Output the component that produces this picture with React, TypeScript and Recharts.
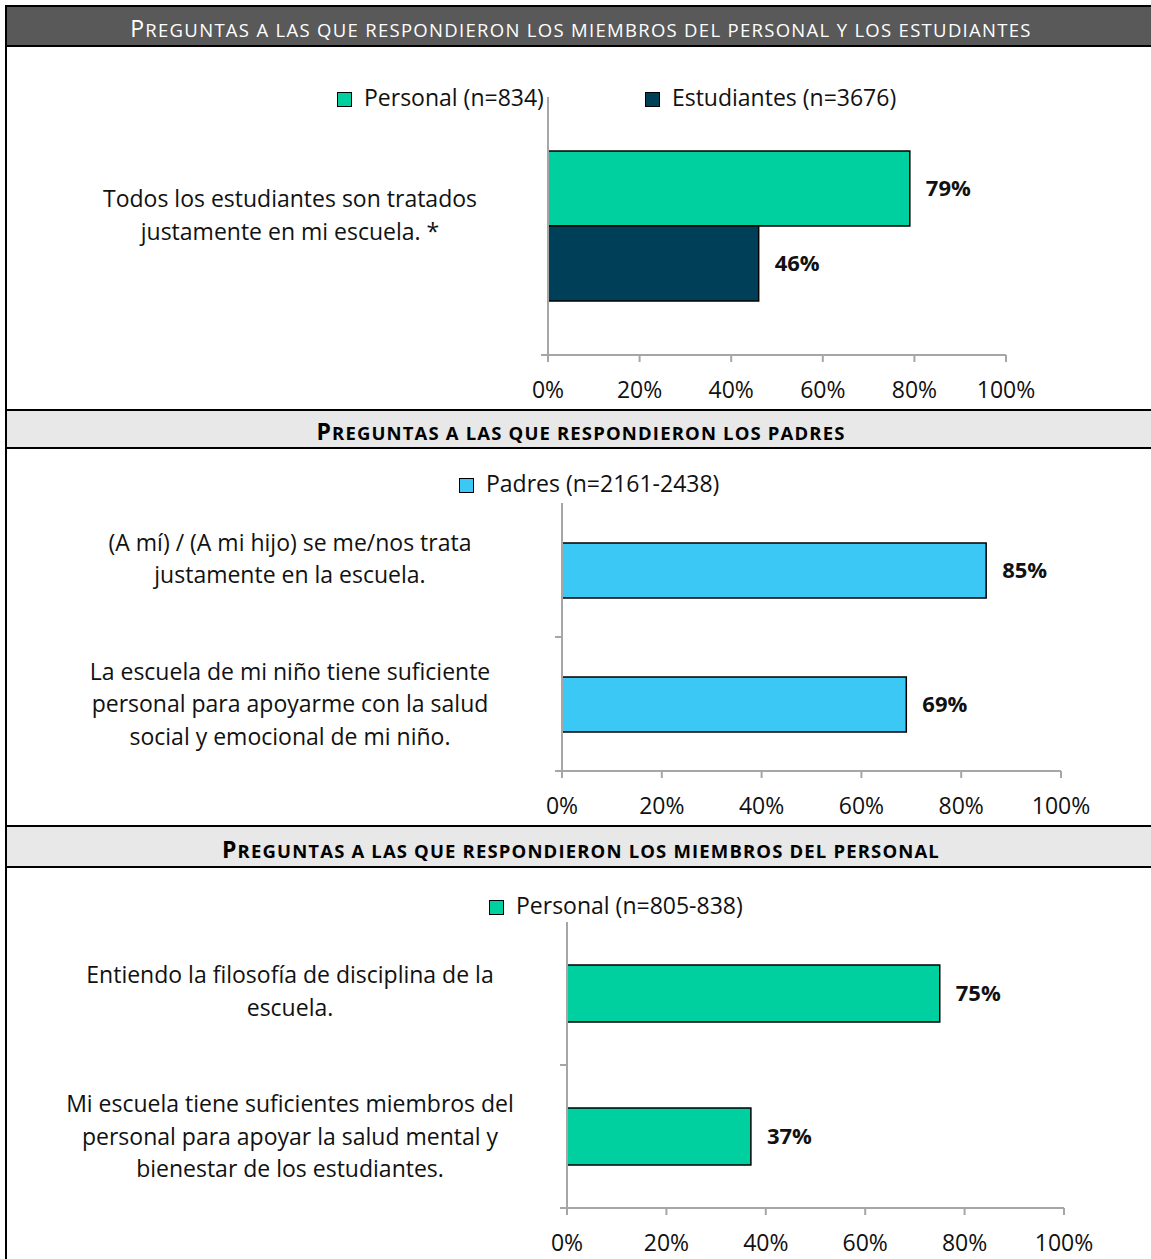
import React from 'react';
import { BarChart, Bar, XAxis, YAxis, Legend, LabelList } from 'recharts';

// values
const percentTicks = [0, 20, 40, 60, 80, 100];

const sharedQuestions = ['Todos los estudiantes son tratados\njustamente en mi escuela. *'];
const sharedPersonal = [79];
const sharedEstudiantes = [46];

const parentQuestions = [
  '(A mí) / (A mi hijo) se me/nos trata\njustamente en la escuela.',
  'La escuela de mi niño tiene suficiente\npersonal para apoyarme con la salud\nsocial y emocional de mi niño.',
];
const parentValues = [85, 69];

const staffQuestions = [
  'Entiendo la filosofía de disciplina de la\nescuela.',
  'Mi escuela tiene suficientes miembros del\npersonal para apoyar la salud mental y\nbienestar de los estudiantes.',
];
const staffValues = [75, 37];

const headerTitles = [
  'Preguntas a las que respondieron los miembros del personal y los estudiantes',
  'Preguntas a las que respondieron los padres',
  'Preguntas a las que respondieron los miembros del personal',
];

const TEAL = '#00cfa0';
const NAVY = '#003f58';
const SKY = '#3cc8f5';
const AXIS = '#a6a6a6';
const FONT = '"Open Sans", "Noto Sans", sans-serif';

type Series = { key: string; name: string; color: string };

const CategoryTick = (props: any) => {
  const { x, y, payload, centerX, nudge } = props;
  const lines = String(payload.value).split('\n');
  const half = payload.offset || 0;
  const lineH = 32.5;
  // two-line labels sit a little above the band centre in the original
  const shift = lines.length === 2 ? nudge : 0;
  const startY = y + shift - ((lines.length - 1) * lineH) / 2;
  return (
    <g>
      <line x1={x - 7} x2={x} y1={y + half} y2={y + half} stroke={AXIS} strokeWidth={2} />
      <text textAnchor="middle" fontSize={23} fontFamily={FONT} fill="#111">
        {lines.map((l: string, i: number) => (
          <tspan key={i} x={centerX} y={startY + i * lineH} dy="0.35em">
            {l}
          </tspan>
        ))}
      </text>
    </g>
  );
};

const LegendRow = ({ series, gap }: { series: Series[]; gap: number }) => (
  <div style={{ display: 'flex', gap, fontFamily: FONT, fontSize: 23, color: '#111', alignItems: 'center' }}>
    {series.map((s) => (
      <div key={s.key} style={{ display: 'flex', alignItems: 'center', gap: 12 }}>
        <span
          style={{
            width: 13,
            height: 13,
            background: s.color,
            border: '1.5px solid #000',
            display: 'inline-block',
            marginTop: 4,
          }}
        />
        <span>{s.name}</span>
      </div>
    ))}
  </div>
);

interface SectionProps {
  top: number;
  height: number;
  data: any[];
  series: Series[];
  plotLeft: number;
  plotRight: number;
  plotTop: number;
  plotBottom: number;
  barSize: number;
  legendLeft: number;
  legendTop: number;
  legendGap: number;
  labelNudge: number;
}

function Section(p: SectionProps) {
  const width = 1151;
  return (
    <div style={{ position: 'absolute', left: 0, top: p.top }}>
      <BarChart
        width={width}
        height={p.height}
        data={p.data}
        layout="vertical"
        barGap={0}
        margin={{ top: p.plotTop - p.top, right: width - p.plotRight, bottom: 0, left: 0 }}
      >
        <XAxis
          type="number"
          domain={[0, 100]}
          ticks={percentTicks}
          tickFormatter={(v) => `${v}%`}
          height={p.top + p.height - p.plotBottom}
          axisLine={{ stroke: AXIS, strokeWidth: 2 }}
          tickLine={{ stroke: AXIS, strokeWidth: 2 }}
          tickSize={7}
          tickMargin={20}
          tick={{ fontSize: 23, fontFamily: FONT, fill: '#111' }}
          interval={0}
        />
        <YAxis
          type="category"
          dataKey="question"
          width={p.plotLeft}
          axisLine={{ stroke: AXIS, strokeWidth: 2 }}
          tickLine={false}
          tickSize={0}
          tickMargin={0}
          tick={<CategoryTick centerX={290} nudge={p.labelNudge} />}
          interval={0}
        />
        <Legend
          layout="horizontal"
          verticalAlign="middle"
          align="center"
          wrapperStyle={{ position: 'absolute', left: p.legendLeft, top: p.legendTop - p.top, width: 'auto' }}
          content={() => <LegendRow series={p.series} gap={p.legendGap} />}
        />
        {p.series.map((s) => (
          <Bar
            key={s.key}
            dataKey={s.key}
            name={s.name}
            fill={s.color}
            stroke="#000"
            strokeWidth={1.5}
            barSize={p.barSize}
            isAnimationActive={false}
          >
            <LabelList
              dataKey={s.key}
              position="right"
              offset={16}
              formatter={(v: any) => `${v}%`}
              style={{ fontSize: 22, fontWeight: 700, fontFamily: FONT, fill: '#111' }}
            />
          </Bar>
        ))}
      </BarChart>
    </div>
  );
}

// small caps by hand: first letter big, everything after it smaller capitals
const SmallCaps = ({ text, big, small }: { text: string; big: number; small: number }) => (
  <span>
    <span style={{ fontSize: big }}>{text[0].toUpperCase()}</span>
    <span style={{ fontSize: small }}>{text.slice(1).toUpperCase()}</span>
  </span>
);

const Header = ({ title, dark, height }: { title: string; dark?: boolean; height: number }) => (
  <div
    style={{
      height,
      borderBottom: '2px solid #000',
      background: dark ? '#595959' : '#e8e8e8',
      color: dark ? '#fff' : '#000',
      display: 'flex',
      alignItems: 'center',
      justifyContent: 'center',
      fontFamily: FONT,
      fontWeight: dark ? 400 : 700,
      letterSpacing: dark ? 1.3 : 1.15,
      paddingTop: 4,
      paddingRight: 12,
      boxSizing: 'border-box',
      whiteSpace: 'nowrap',
    }}
  >
    <SmallCaps text={title} big={23} small={18.5} />
  </div>
);

export default function App() {
  const sharedData = sharedQuestions.map((q, i) => ({
    question: q,
    personal: sharedPersonal[i],
    estudiantes: sharedEstudiantes[i],
  }));
  const parentData = parentQuestions.map((q, i) => ({ question: q, padres: parentValues[i] }));
  const staffData = staffQuestions.map((q, i) => ({ question: q, personal: staffValues[i] }));

  return (
    <div
      style={{
        position: 'absolute',
        left: 0,
        top: 0,
        width: 1151,
        height: 1259,
        overflow: 'hidden',
        background: '#fff',
      }}
    >
      <div
        style={{
          position: 'absolute',
          left: 5,
          top: 5,
          width: 1160,
          height: 1260,
          borderTop: '2px solid #000',
          borderLeft: '2px solid #000',
        }}
      >
        <Header title={headerTitles[0]} dark height={40} />
        <div style={{ height: 364, borderBottom: '2px solid #000', boxSizing: 'border-box' }} />
        <Header title={headerTitles[1]} height={38} />
        <div style={{ height: 378, borderBottom: '2px solid #000', boxSizing: 'border-box' }} />
        <Header title={headerTitles[2]} height={41} />
      </div>

      <Section
        top={48}
        height={360}
        data={sharedData}
        series={[
          { key: 'personal', name: 'Personal (n=834)', color: TEAL },
          { key: 'estudiantes', name: 'Estudiantes (n=3676)', color: NAVY },
        ]}
        plotLeft={548}
        plotRight={1006}
        plotTop={97}
        plotBottom={355}
        barSize={75}
        legendLeft={337}
        legendTop={81}
        legendGap={101}
        labelNudge={-10.5}
      />
      <Section
        top={450}
        height={375}
        data={parentData}
        series={[{ key: 'padres', name: 'Padres (n=2161-2438)', color: SKY }]}
        plotLeft={562}
        plotRight={1061}
        plotTop={503}
        plotBottom={771}
        barSize={55}
        legendLeft={459}
        legendTop={467}
        legendGap={0}
        labelNudge={-11}
      />
      <Section
        top={868}
        height={391}
        data={staffData}
        series={[{ key: 'personal', name: 'Personal (n=805-838)', color: TEAL }]}
        plotLeft={567}
        plotRight={1064}
        plotTop={922}
        plotBottom={1208}
        barSize={57}
        legendLeft={489}
        legendTop={889}
        legendGap={0}
        labelNudge={-2}
      />
    </div>
  );
}
